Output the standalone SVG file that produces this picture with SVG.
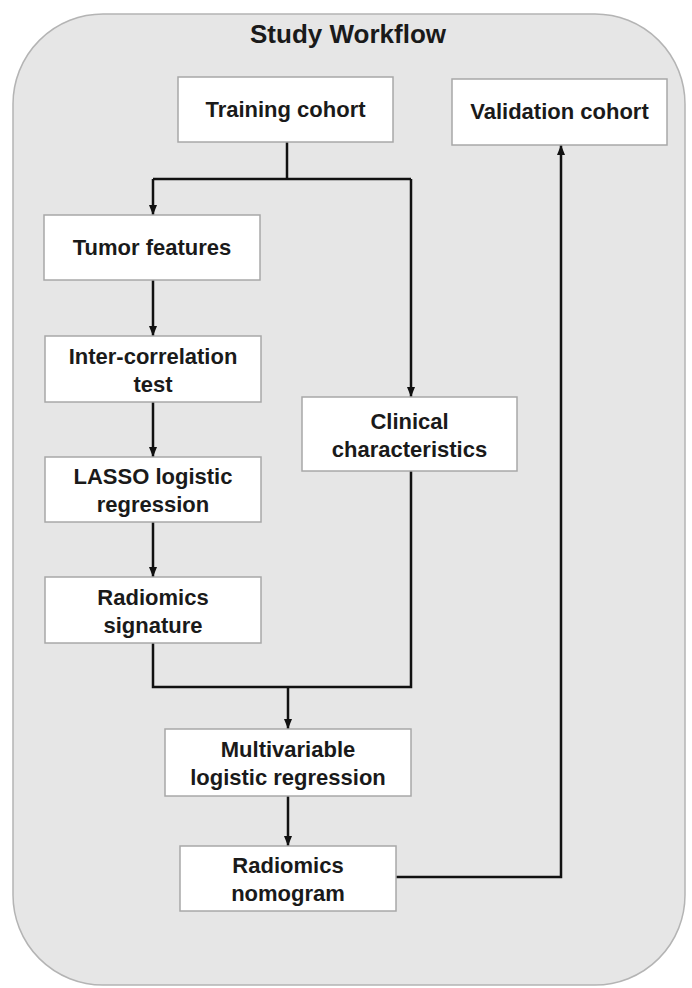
<svg xmlns="http://www.w3.org/2000/svg" width="692" height="988" viewBox="0 0 692 988">
<style>
.bg{fill:#e6e6e6;stroke:#b4b4b4;stroke-width:1.5}
.box{fill:#ffffff;stroke:#a8a8a8;stroke-width:1.5}
.t{font-family:"Liberation Sans",Arial,sans-serif;font-weight:bold;font-size:22px;fill:#1a1a1a;text-anchor:middle}
.title{font-family:"Liberation Sans",Arial,sans-serif;font-weight:bold;font-size:26px;fill:#1a1a1a;text-anchor:middle}
.c{fill:none;stroke:#111;stroke-width:2.5}
</style>
<defs>
<marker id="ah" markerUnits="userSpaceOnUse" markerWidth="10" markerHeight="10" viewBox="0 0 10 10" refX="10" refY="5" orient="auto">
<path d="M0,1 L10,5 L0,9 Z" fill="#111"/>
</marker>
</defs>
<rect class="bg" x="13" y="14" width="672" height="971" rx="90" ry="90"/>
<text class="title" x="348" y="43">Study Workflow</text>
<g id="connectors">
<path class="c" d="M287 142 V179"/>
<path class="c" d="M153 179 H411"/>
<path class="c" d="M153 179 V215" marker-end="url(#ah)"/>
<path class="c" d="M411 179 V397" marker-end="url(#ah)"/>
<path class="c" d="M153 280 V336" marker-end="url(#ah)"/>
<path class="c" d="M153 402 V457" marker-end="url(#ah)"/>
<path class="c" d="M153 522 V577" marker-end="url(#ah)"/>
<path class="c" d="M153 643 V687 H411 V471"/>
<path class="c" d="M288 687 V729" marker-end="url(#ah)"/>
<path class="c" d="M288 796 V846" marker-end="url(#ah)"/>
<path class="c" d="M396 877 H561 V145" marker-end="url(#ah)"/>
</g>
<g id="training">
<rect class="box" x="178" y="77" width="215" height="65"/>
<text class="t" x="285.5" y="117">Training cohort</text>
</g>
<g id="validation">
<rect class="box" x="452" y="79" width="215" height="66"/>
<text class="t" x="559.5" y="119">Validation cohort</text>
</g>
<g id="tumor">
<rect class="box" x="44" y="215" width="216" height="65"/>
<text class="t" x="152" y="255">Tumor features</text>
</g>
<g id="intercorr">
<rect class="box" x="45" y="336" width="216" height="66"/>
<text class="t" x="153" y="364">Inter-correlation</text>
<text class="t" x="153" y="392">test</text>
</g>
<g id="lasso">
<rect class="box" x="45" y="457" width="216" height="65"/>
<text class="t" x="153" y="484">LASSO logistic</text>
<text class="t" x="153" y="512">regression</text>
</g>
<g id="signature">
<rect class="box" x="45" y="577" width="216" height="66"/>
<text class="t" x="153" y="605">Radiomics</text>
<text class="t" x="153" y="633">signature</text>
</g>
<g id="clinical">
<rect class="box" x="302" y="397" width="215" height="74"/>
<text class="t" x="409.5" y="429">Clinical</text>
<text class="t" x="409.5" y="457">characteristics</text>
</g>
<g id="multivariable">
<rect class="box" x="165" y="729" width="246" height="67"/>
<text class="t" x="288" y="757">Multivariable</text>
<text class="t" x="288" y="785">logistic regression</text>
</g>
<g id="nomogram">
<rect class="box" x="180" y="846" width="216" height="65"/>
<text class="t" x="288" y="873">Radiomics</text>
<text class="t" x="288" y="901">nomogram</text>
</g>
</svg>
